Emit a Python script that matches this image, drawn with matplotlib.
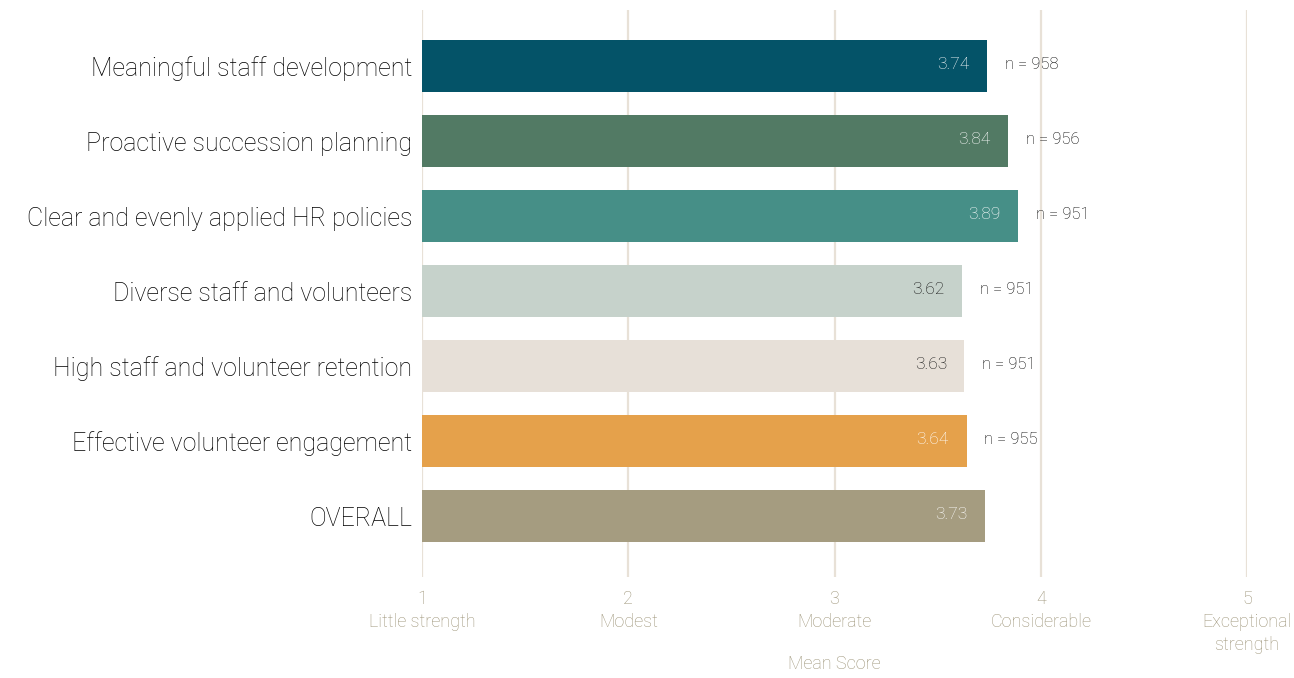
import matplotlib.pyplot as plt

plt.rcParams['font.family'] = ['Roboto', 'DejaVu Sans']
plt.rcParams['font.weight'] = 'light'

labels = ["Meaningful staff development", "Proactive succession planning",
          "Clear and evenly applied HR policies", "Diverse staff and volunteers",
          "High staff and volunteer retention", "Effective volunteer engagement",
          "OVERALL"]
scores = [3.74, 3.84, 3.89, 3.62, 3.63, 3.64, 3.73]
counts = [958, 956, 951, 951, 951, 955, None]
colors = ["#045368", "#527a64", "#468f87", "#c6d2cb", "#e7e0d8", "#e5a14b", "#a59c80"]
value_colors = ["#ffffff", "#ffffff", "#ffffff", "#111111", "#111111", "#ffffff", "#ffffff"]

ticks = [1, 2, 3, 4, 5]
tick_names = ["1\nLittle strength", "2\nModest", "3\nModerate", "4\nConsiderable",
              "5\nExceptional\nstrength"]

fig = plt.figure(figsize=(12.94, 6.78), dpi=100)
ax = fig.add_axes([422 / 1294, 1 - 577 / 678, (1247 - 422) / 1294, (577 - 10) / 678])

ypos = list(range(len(labels)))
for x in ticks:
    ax.axvline(x, color="#e8e1d7", lw=1.6, zorder=0)
ax.barh(ypos, [s - 1 for s in scores], left=1, height=0.7, color=colors, zorder=2)

for y, s, c, tc in zip(ypos, scores, counts, value_colors):
    ax.text(s - 0.085, y - 0.02, f"{s:.2f}", ha="right", va="center", fontsize=12.5,
            color=tc, zorder=3)
    if c is not None:
        ax.text(s + 0.087, y - 0.02, f"n = {c}", ha="left", va="center", fontsize=12,
                color="#000000", zorder=3)

ax.set_xlim(1, 5)
ax.set_ylim(6.81, -0.747)
ax.set_yticks(ypos)
ax.set_yticklabels(labels, fontsize=18, color="#000000")
ax.set_xticks(ticks)
ax.set_xticklabels(tick_names, fontsize=13, color="#9c9377", linespacing=1.38)
ax.tick_params(axis="y", length=0, pad=7)
ax.tick_params(axis="x", length=0, pad=9)
for sp in ax.spines.values():
    sp.set_visible(False)

fig.text((422 + 2 * 206.25) / 1294, 1 - 664 / 678, "Mean Score", ha="center",
         va="center", fontsize=13, color="#9c9377")

fig.savefig("out.png", dpi=100)
